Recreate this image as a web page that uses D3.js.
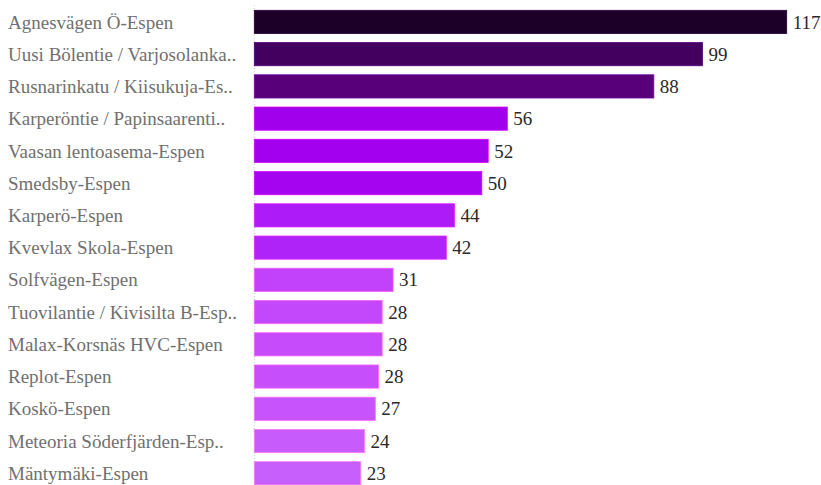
<!DOCTYPE html>
<html>
<head>
<meta charset="utf-8">
<script src="https://cdn.jsdelivr.net/npm/d3@7"></script>
<style>
    body { margin: 0; background: #fff; }
    svg { display: block; }
</style>
</head>
<body>
<div id="chart"></div>
<script>
// station names as shown (already truncated in the original)
const stations = [
    "Agnesvägen Ö-Espen",
    "Uusi Bölentie / Varjosolanka..",
    "Rusnarinkatu / Kiisukuja-Es..",
    "Karperöntie / Papinsaarenti..",
    "Vaasan lentoasema-Espen",
    "Smedsby-Espen",
    "Karperö-Espen",
    "Kvevlax Skola-Espen",
    "Solfvägen-Espen",
    "Tuovilantie / Kivisilta B-Esp..",
    "Malax-Korsnäs HVC-Espen",
    "Replot-Espen",
    "Koskö-Espen",
    "Meteoria Söderfjärden-Esp..",
    "Mäntymäki-Espen"
];
// bar lengths
const values = [117, 98.5, 87.8, 55.6, 51.4, 50, 44, 42.2, 30.5, 28.1, 28.1, 27.3, 26.6, 24.2, 23.4];
// numbers printed next to the bars
const valueLabels = ["117", "99", "88", "56", "52", "50", "44", "42", "31", "28", "28", "28", "27", "24", "23"];
const barColors = ["#1c0028", "#43005f", "#580079", "#a100ed", "#a400f0", "#a504f1", "#ad1cf8", "#af22f8",
                   "#c142fa", "#c448fb", "#c64cfb", "#c64efb", "#c653fc", "#c75bfc", "#c75ffc"];

const width = 821, height = 485;
const left = 254.3;

const svg = d3.select("#chart")
              .append("svg")
              .attr("width", width)
              .attr("height", height);

const x = d3.scaleLinear()
            .domain([0, 117])
            .range([left, 786.7]);
const y = d3.scaleBand()
            .domain(stations)
            .range([5.8, 489.4])
            .paddingInner(0.28)
            .paddingOuter(0.14);

// dotted axis line
svg.append("line")
   .attr("x1", left)
   .attr("x2", left)
   .attr("y1", 5)
   .attr("y2", height)
   .style("stroke", "#ccc")
   .style("stroke-width", 1)
   .style("stroke-dasharray", "1, 2");

svg.append("g")
   .selectAll("rect")
   .data(stations)
   .join("rect")
   .attr("x", left)
   .attr("y", (d) => y(d))
   .attr("width", (d, i) => x(values[i]) - left)
   .attr("height", y.bandwidth())
   .style("fill", (d, i) => barColors[i])
   .style("stroke", (d, i) => d3.color(barColors[i]).brighter(0.8))
   .style("stroke-width", 0.8);

// category labels
svg.append("g")
   .selectAll("text")
   .data(stations)
   .join("text")
   .attr("x", 8)
   .attr("y", (d) => y(d) + y.bandwidth() / 2)
   .attr("dy", "0.35em")
   .style("font-family", "'Liberation Serif', 'Times New Roman', serif")
   .style("font-size", "19px")
   .style("fill", "#707070")
   .text((d) => d);

// value labels
svg.append("g")
   .selectAll("text")
   .data(stations)
   .join("text")
   .attr("x", (d, i) => x(values[i]) + 6)
   .attr("y", (d) => y(d) + y.bandwidth() / 2)
   .attr("dy", "0.35em")
   .style("font-family", "'Liberation Serif', 'Times New Roman', serif")
   .style("font-size", "19px")
   .style("fill", "#2a2a2a")
   .text((d, i) => valueLabels[i]);
</script>
</body>
</html>
